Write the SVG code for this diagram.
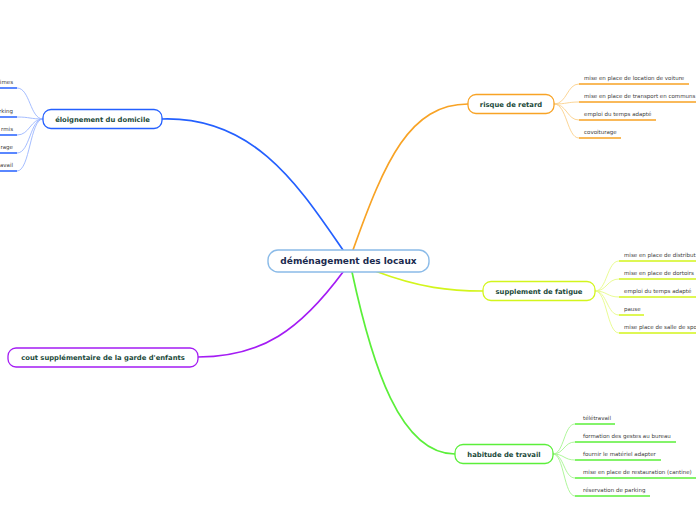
<svg xmlns="http://www.w3.org/2000/svg" width="696" height="520" viewBox="0 0 696 520">
<style>
.bg{fill:#ffffff}
.node rect{fill:#ffffff;stroke-width:1.3}
.ntxt{font-family:"DejaVu Sans",Verdana,sans-serif;font-weight:bold;font-size:6.8px;fill:#1b4a3a;text-anchor:middle}
.ctxt{font-family:"DejaVu Sans",Verdana,sans-serif;font-weight:bold;font-size:9px;fill:#1a2a4e;text-anchor:middle}
.stxt{font-family:"DejaVu Sans",Verdana,sans-serif;font-size:5.5px;fill:#3c3c3c}
.main{fill:none;stroke-width:1.7;stroke-linecap:round}
.sub{fill:none;stroke-width:0.9}
.ul{fill:none;stroke-width:1.5}
.blue{stroke:#2460ff}.lblue{stroke:#9bb6ff}
.orange{stroke:#f8a325}.lorange{stroke:#fbd08a}
.yel{stroke:#d3f51c}.lyel{stroke:#e6fa88}
.green{stroke:#5bef3a}.lgreen{stroke:#a6f590}
.purple{stroke:#a41cf4}
</style>
<rect class="bg" x="0" y="0" width="696" height="520"/>
<g id="connectors">
<path class="main blue" d="M162,119 C255,116 300,188 343,250"/>
<path class="main orange" d="M353,250 C385,160 410,104 468,104"/>
<path class="main yel" d="M375,271 C420,288 450,291 483,291"/>
<path class="main green" d="M352,272 C372,365 400,454 455,454"/>
<path class="main purple" d="M343,272 C300,330 262,357 198,357"/>
<path class="sub lblue" d="M43,119 C30,119 30,88 17,88"/>
<path class="sub lblue" d="M43,119 C30,119 30,117 17,117"/>
<path class="sub lblue" d="M43,119 C30,119 30,135 17,135"/>
<path class="sub lblue" d="M43,119 C30,119 30,153 17,153"/>
<path class="sub lblue" d="M43,119 C30,119 30,171 17,171"/>
<path class="ul blue" d="M-2,88 H17 M-2,117 H17 M-2,135 H17 M-2,153 H17 M-2,171 H17"/>
<path class="sub lorange" d="M554,104 C567,104 567,84 579,84"/>
<path class="sub lorange" d="M554,104 C567,104 567,102 579,102"/>
<path class="sub lorange" d="M554,104 C567,104 567,120 579,120"/>
<path class="sub lorange" d="M554,104 C567,104 567,138 579,138"/>
<path class="ul orange" d="M579,84 H689 M579,102 H696 M579,120 H656 M579,138 H621"/>
<path class="sub lyel" d="M595,291 C607,291 607,261 619,261"/>
<path class="sub lyel" d="M595,291 C607,291 607,279 619,279"/>
<path class="sub lyel" d="M595,291 C607,291 607,297 619,297"/>
<path class="sub lyel" d="M595,291 C607,291 607,315 619,315"/>
<path class="sub lyel" d="M595,291 C607,291 607,333 619,333"/>
<path class="ul yel" d="M619,261 H696 M619,279 H696 M619,297 H696 M619,315 H644 M619,333 H696"/>
<path class="sub lgreen" d="M553,454 C564,454 564,424 575,424"/>
<path class="sub lgreen" d="M553,454 C564,454 564,442 575,442"/>
<path class="sub lgreen" d="M553,454 C564,454 564,460 575,460"/>
<path class="sub lgreen" d="M553,454 C564,454 564,478 575,478"/>
<path class="sub lgreen" d="M553,454 C564,454 564,496 575,496"/>
<path class="ul green" d="M575,424 H615 M575,442 H676 M575,460 H661 M575,478 H696 M575,496 H650"/>
</g>
<g id="center" class="node">
<rect x="268" y="250" width="161" height="22" rx="10" style="stroke:#8bbbe8;stroke-width:1.4"/>
<text class="ctxt" x="348.5" y="264.2">déménagement des locaux</text>
</g>
<g id="eloignement" class="node">
<rect x="43" y="109.5" width="119" height="19" rx="8" class="blue"/>
<text class="ntxt" x="102.5" y="121.5">éloignement du domicile</text>
</g>
<g id="eloignement-subs">
<text class="stxt" x="13" y="84" text-anchor="end">imes</text>
<text class="stxt" x="13" y="113" text-anchor="end">rking</text>
<text class="stxt" x="13" y="131" text-anchor="end">rmis</text>
<text class="stxt" x="13" y="149" text-anchor="end">rage</text>
<text class="stxt" x="13" y="167" text-anchor="end">avail</text>
</g>
<g id="retard" class="node">
<rect x="468" y="94.5" width="86" height="19" rx="8" class="orange"/>
<text class="ntxt" x="511" y="106.5">risque de retard</text>
</g>
<g id="retard-subs">
<text class="stxt" x="584" y="80">mise en place de location de voiture</text>
<text class="stxt" x="584" y="98">mise en place de transport en communs</text>
<text class="stxt" x="584" y="116">emploi du temps adapté</text>
<text class="stxt" x="584" y="134">covoiturage</text>
</g>
<g id="fatigue" class="node">
<rect x="483" y="281.5" width="112" height="19" rx="8" class="yel"/>
<text class="ntxt" x="539" y="293.5">supplement de fatigue</text>
</g>
<g id="fatigue-subs">
<text class="stxt" x="624" y="257">mise en place de distribut</text>
<text class="stxt" x="624" y="275">mise en place de dortoirs</text>
<text class="stxt" x="624" y="293">emploi du temps adapté</text>
<text class="stxt" x="624" y="311">pause</text>
<text class="stxt" x="624" y="329">mise place de salle de spo</text>
</g>
<g id="habitude" class="node">
<rect x="455" y="444.5" width="98" height="19" rx="8" class="green"/>
<text class="ntxt" x="504" y="456.5">habitude de travail</text>
</g>
<g id="habitude-subs">
<text class="stxt" x="583" y="420">télétravail</text>
<text class="stxt" x="583" y="438">formation des gestes au bureau</text>
<text class="stxt" x="583" y="456">fournir le matériel adapter</text>
<text class="stxt" x="583" y="474">mise en place de restauration (cantine)</text>
<text class="stxt" x="583" y="492">réservation de parking</text>
</g>
<g id="garde" class="node">
<rect x="8" y="348" width="190" height="19" rx="8" class="purple"/>
<text class="ntxt" x="103" y="360">cout supplémentaire de la garde d'enfants</text>
</g>
</svg>
